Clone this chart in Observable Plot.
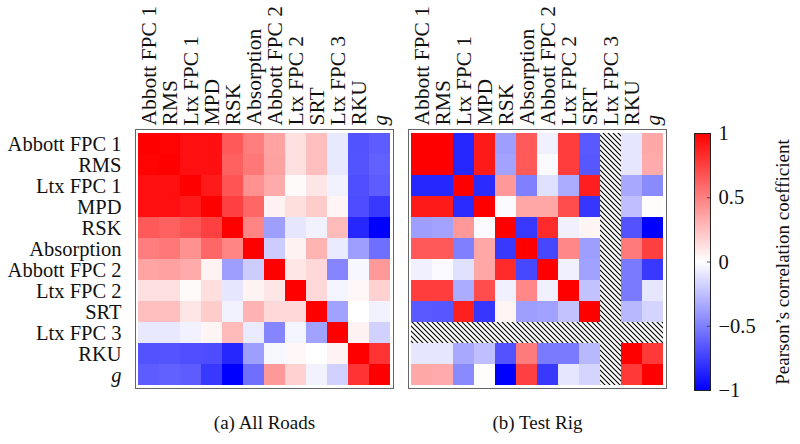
<!DOCTYPE html>
<html><head><meta charset="utf-8">
<script src="https://cdn.jsdelivr.net/npm/d3@7"></script>
<script src="https://cdn.jsdelivr.net/npm/@observablehq/plot@0.6"></script>
<style>
body{margin:0;background:#fff;}
#wrap{position:relative;width:800px;height:444px;overflow:hidden;}
#wrap svg{position:absolute;top:0;}
</style></head>
<body>
<div id="wrap">
<svg width="0" height="0" style="position:absolute;left:0;top:0"><defs>
<pattern id="hatch" patternUnits="userSpaceOnUse" width="5" height="5">
<rect width="5" height="5" fill="#fff"/>
<path d="M-1,-1L6,6M-1,4L1,6M4,-1L6,1" stroke="#000" stroke-width="1.1"/>
</pattern>
<linearGradient id="cbar" x1="0" y1="1" x2="0" y2="0">
<stop offset="0" stop-color="#0000ff"/><stop offset="0.5" stop-color="#ffffff"/><stop offset="1" stop-color="#ff0000"/>
</linearGradient>
</defs></svg>
</div>
<script>
const labels = ["Abbott FPC 1","RMS","Ltx FPC 1","MPD","RSK","Absorption","Abbott FPC 2","Ltx FPC 2","SRT","Ltx FPC 3","RKU","g"];
const allRoads = [
  [1, 0.99, 0.94, 0.94, 0.65, 0.51, 0.36, 0.12, 0.25, -0.09, -0.68, -0.64],
  [0.99, 1, 0.94, 0.94, 0.62, 0.53, 0.37, 0.12, 0.25, -0.09, -0.67, -0.62],
  [0.94, 0.94, 1, 0.9, 0.67, 0.43, 0.33, 0.02, 0.1, -0.05, -0.69, -0.64],
  [0.94, 0.94, 0.9, 1, 0.75, 0.6, 0.05, 0.13, 0.2, 0.04, -0.7, -0.78],
  [0.65, 0.62, 0.67, 0.75, 1, 0.48, -0.38, -0.1, -0.05, 0.27, -0.85, -1],
  [0.51, 0.53, 0.43, 0.6, 0.48, 1, -0.2, 0.05, 0.3, -0.08, -0.38, -0.57],
  [0.36, 0.37, 0.33, 0.05, -0.38, -0.2, 1, 0.1, 0.15, -0.48, -0.03, 0.4],
  [0.12, 0.12, 0.02, 0.13, -0.1, 0.05, 0.1, 1, 0.15, -0.04, 0.03, 0.18],
  [0.25, 0.25, 0.1, 0.2, -0.05, 0.3, 0.15, 0.15, 1, -0.37, 0, -0.05],
  [-0.09, -0.09, -0.05, 0.04, 0.27, -0.08, -0.48, -0.04, -0.37, 1, 0.05, -0.18],
  [-0.68, -0.67, -0.69, -0.7, -0.85, -0.38, -0.03, 0.03, 0, 0.05, 1, 0.8],
  [-0.64, -0.62, -0.64, -0.78, -1, -0.57, 0.4, 0.18, -0.05, -0.18, 0.8, 1]
];
const testRig = [
  [1, 1, -0.85, 0.9, -0.38, 0.65, -0.06, 0.76, -0.65, null, -0.1, 0.34],
  [1, 1, -0.85, 0.9, -0.36, 0.65, -0.02, 0.76, -0.66, null, -0.1, 0.33],
  [-0.85, -0.85, 1, -0.83, 0.4, -0.5, -0.12, -0.33, 0.88, null, -0.34, -0.46],
  [0.9, 0.9, -0.83, 1, -0.02, 0.35, 0.35, 0.7, -0.79, null, -0.25, 0.01],
  [-0.38, -0.36, 0.4, -0.02, 1, -0.78, 0.83, -0.06, 0.04, null, -0.68, -1],
  [0.65, 0.65, -0.5, 0.35, -0.78, 1, -0.72, 0.47, -0.38, null, 0.52, 0.75],
  [-0.06, -0.02, -0.12, 0.35, 0.83, -0.72, 1, -0.06, -0.37, null, -0.52, -0.78],
  [0.76, 0.76, -0.33, 0.7, -0.06, 0.47, -0.06, 1, -0.24, null, -0.52, -0.1],
  [-0.65, -0.66, 0.88, -0.79, 0.04, -0.38, -0.37, -0.24, 1, null, -0.28, -0.17],
  [null, null, null, null, null, null, null, null, null, null, null, null],
  [-0.1, -0.1, -0.34, -0.25, -0.68, 0.52, -0.52, -0.52, -0.28, null, 1, 0.78],
  [0.34, 0.33, -0.46, 0.01, -1, 0.75, -0.78, -0.1, -0.17, null, 0.78, 1]
];
const captions = ["(a) All Roads", "(b) Test Rig"];
const cbTicks = [-1, -0.5, 0, 0.5, 1];
const cbLabel = "Pearson\u2019s correlation coefficient";

const FONT = "'Liberation Serif', 'Times New Roman', serif";
const colorScale = {type: "linear", domain: [-1, 0, 1], range: ["#0000ff", "#ffffff", "#ff0000"], interpolate: "rgb"};

function heat(m, caption, showY, width, marginLeft) {
  const cells = labels.flatMap((r, i) => labels.map((c, j) => ({row: r, col: c, v: m[i][j]})));
  const marks = [
    Plot.cell(cells.filter(d => d.v != null), {x: "col", y: "row", fill: "v", inset: 0, shapeRendering: "crispEdges"}),
    Plot.cell(cells.filter(d => d.v == null), {x: "col", y: "row", fill: "url(#hatch)", inset: 0, shapeRendering: "crispEdges"}),
    Plot.frame({stroke: "#666", strokeWidth: 1}),
    Plot.axisX({anchor: "top", tickSize: 0, tickPadding: 4, tickRotate: -90, label: null, fontSize: 21.5, fill: "#111"}),
    Plot.text([caption], {frameAnchor: "bottom", dy: 34, lineAnchor: "middle", fontSize: 19, fill: "#111"})
  ];
  if (showY) marks.push(Plot.axisY({anchor: "left", tickSize: 0, tickPadding: 14, label: null, fontSize: 20.5, fill: "#111"}));
  return Plot.plot({
    width, height: 444, marginTop: 129, marginBottom: 56, marginLeft, marginRight: width - marginLeft - 258,
    style: {fontFamily: FONT, fontSize: "20px", color: "#111", background: "transparent", overflow: "visible"},
    x: {domain: labels, padding: 0},
    y: showY ? {domain: labels, padding: 0} : {domain: labels, padding: 0, axis: null},
    color: colorScale,
    marks
  });
}

const wrap = document.getElementById("wrap");
const left = heat(allRoads, captions[0], true, 395, 135);
left.style.left = "0px";
wrap.appendChild(left);
d3.select(left).selectAll("text").filter(function() { return this.textContent === "g"; }).attr("font-style", "italic");

const right = heat(testRig, captions[1], false, 272, 8);
right.style.left = "400px";
wrap.appendChild(right);
d3.select(right).selectAll("text").filter(function() { return this.textContent === "g"; }).attr("font-style", "italic");

const cb = Plot.plot({
  width: 120, height: 444, marginTop: 133, marginBottom: 54, marginLeft: 14, marginRight: 90,
  style: {fontFamily: FONT, fontSize: "20.5px", color: "#111", background: "transparent", overflow: "visible"},
  x: {domain: [0, 1], axis: null},
  y: {domain: [-1, 1], axis: null},
  marks: [
    Plot.rect([cbLabel], {x1: 0, x2: 1, y1: -1, y2: 1, fill: "url(#cbar)"}),
    Plot.ruleY(cbTicks, {x1: 0.8, x2: 1, stroke: "#333", strokeWidth: 0.8}),
    Plot.frame({stroke: "#222", strokeWidth: 1}),
    Plot.axisY({anchor: "right", ticks: cbTicks, tickSize: 0, tickPadding: 8, label: null, fill: "#111",
      tickFormat: d => String(d).replace("-", "\u2212")}),
    Plot.text([cbLabel], {frameAnchor: "right", textAnchor: "middle", rotate: -90, dx: 72, fontSize: 19, fill: "#111"})
  ]
});
cb.style.left = "680px";
wrap.appendChild(cb);
</script>
</body></html>
